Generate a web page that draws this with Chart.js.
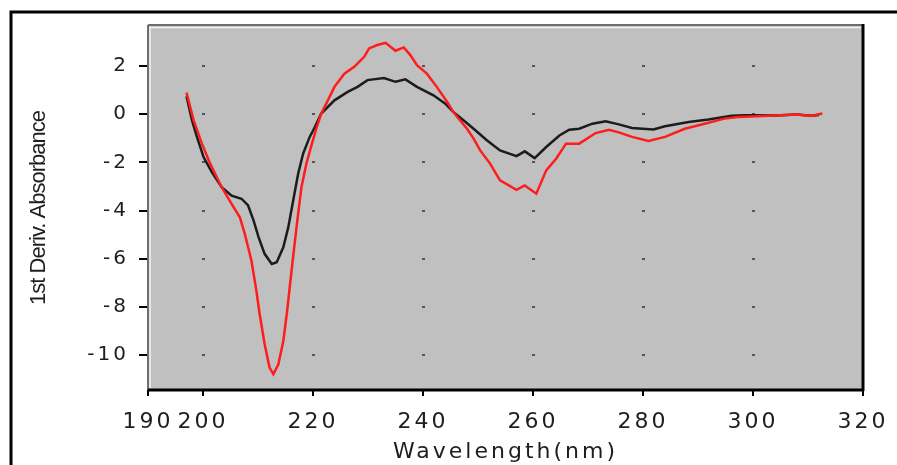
<!DOCTYPE html>
<html>
<head>
<meta charset="utf-8">
<script src="https://cdn.jsdelivr.net/npm/chart.js@4.4.0/dist/chart.umd.min.js"></script>
<style>
  html, body { margin: 0; padding: 0; background: #fff; }
  canvas { display: block; }
</style>
</head>
<body>
<canvas id="derivChart" width="897" height="465"></canvas>
<script>
'use strict';

// Axis ticks
const xTickValues = [190, 200, 220, 240, 260, 280, 300, 320];
const yTickValues = [-10, -8, -6, -4, -2, 0, 2];

// Black trace: wavelength (nm) / 1st derivative
const blackNm = [197.0, 198.0, 198.9, 200.1, 201.6, 203.4, 205.2, 207.0, 208.2, 209.2, 210.1, 211.2, 212.5, 213.4,
  214.6, 215.5, 216.4, 217.3, 218.2, 219.4, 220.3, 221.5, 223.9, 226.3, 228.1, 229.9, 232.9, 235.0, 236.8, 238.9,
  241.9, 244.0, 245.5, 247.9, 249.2, 251.6, 254.0, 257.0, 258.5, 260.3, 262.4, 264.8, 266.6, 268.4, 270.8, 273.2,
  275.6, 278.0, 281.9, 284.0, 288.3, 291.9, 296.1, 298.5, 300.3, 304.0, 308.0, 310.5, 312.0];
const blackVal = [0.75, -0.25, -0.94, -1.78, -2.40, -3.03, -3.38, -3.51, -3.79, -4.42, -5.11, -5.80, -6.22, -6.15,
  -5.53, -4.70, -3.58, -2.47, -1.64, -0.94, -0.55, 0.03, 0.58, 0.93, 1.14, 1.42, 1.51, 1.35, 1.45, 1.14,
  0.79, 0.45, 0.10, -0.35, -0.60, -1.08, -1.50, -1.74, -1.54, -1.82, -1.36, -0.88, -0.64, -0.60, -0.39, -0.29,
  -0.42, -0.57, -0.63, -0.50, -0.32, -0.22, -0.06, -0.04, -0.04, -0.05, -0.01, -0.06, -0.03];

// Red trace
const redNm = [197.0, 198.3, 199.8, 201.3, 203.4, 205.2, 206.7, 207.6, 208.8, 209.7, 210.3, 211.2, 212.1, 212.8,
  213.7, 214.6, 215.3, 216.1, 217.0, 217.9, 218.8, 219.7, 220.6, 221.5, 222.7, 223.9, 225.7, 227.5, 229.3, 230.2,
  231.7, 233.2, 235.0, 236.5, 237.7, 238.9, 240.7, 242.5, 244.4, 245.5, 246.2, 248.0, 249.2, 250.4, 252.2, 254.0,
  257.0, 258.5, 260.6, 262.4, 264.2, 266.0, 268.4, 271.4, 273.8, 275.6, 278.0, 281.0, 284.0, 287.6, 291.2, 294.8,
  297.2, 300.9, 308.1, 310.5, 312.6];
const redVal = [0.90, -0.25, -1.22, -2.05, -3.03, -3.72, -4.28, -4.97, -6.08, -7.33, -8.30, -9.55, -10.53, -10.80,
  -10.39, -9.42, -8.17, -6.50, -4.70, -3.03, -2.05, -1.30, -0.60, 0.03, 0.58, 1.14, 1.69, 1.97, 2.39, 2.74,
  2.88, 2.97, 2.64, 2.78, 2.46, 2.04, 1.69, 1.14, 0.51, 0.10, -0.10, -0.60, -1.01, -1.50, -2.05, -2.75,
  -3.14, -2.96, -3.30, -2.33, -1.85, -1.22, -1.22, -0.78, -0.64, -0.75, -0.94, -1.11, -0.94, -0.60, -0.39, -0.18,
  -0.11, -0.08, -0.01, -0.07, 0.03];

const toPoints = (xs, ys) => xs.map((x, i) => ({ x: x, y: ys[i] }));

// Grey plot panel, outer frame and grid dots
const plotFrame = {
  id: 'plotFrame',
  beforeDraw(chart) {
    const { ctx, chartArea: a } = chart;
    ctx.letterSpacing = '-1px'; // y title (drawn before datasets) is condensed
    ctx.save();
    ctx.strokeStyle = '#000';
    ctx.lineWidth = 3;
    ctx.strokeRect(11, 12, 1000, 1000);
    ctx.fillStyle = '#c0c0c0';
    ctx.fillRect(a.left, a.top, a.right - a.left, a.bottom - a.top);
    ctx.restore();
  },
  beforeDatasetsDraw(chart) {
    const { ctx, chartArea: a } = chart;
    const xs = chart.scales.x, ys = chart.scales.y;
    ctx.save();
    ctx.fillStyle = '#555';
    xs.ticks.forEach(function (tx) {
      if (tx.value <= xs.min || tx.value >= xs.max) return;
      ys.ticks.forEach(function (ty) {
        const px = Math.round(xs.getPixelForValue(tx.value));
        const py = Math.round(ys.getPixelForValue(ty.value));
        ctx.fillRect(px - 1, py - 1, 3, 2);
      });
    });
    // sunken border
    ctx.lineWidth = 2;
    ctx.strokeStyle = '#6e6e6e';
    ctx.beginPath(); ctx.moveTo(a.left, a.top - 1); ctx.lineTo(a.right, a.top - 1); ctx.stroke();
    ctx.strokeStyle = '#f2f2f2';
    ctx.lineWidth = 1.5;
    ctx.beginPath();
    ctx.moveTo(a.left + 2, a.bottom - 2);
    ctx.lineTo(a.left + 2, a.top + 1.5);
    ctx.lineTo(a.right - 2, a.top + 1.5);
    ctx.stroke();
    ctx.strokeStyle = '#000';
    ctx.lineWidth = 3;
    ctx.beginPath(); ctx.moveTo(a.right, a.top - 2); ctx.lineTo(a.right, a.bottom + 1); ctx.stroke();
    ctx.beginPath(); ctx.moveTo(a.left, a.bottom); ctx.lineTo(a.right + 1, a.bottom); ctx.stroke();
    ctx.restore();
  },
  afterDatasetsDraw(chart) {
    // tick labels and x title come after this (z = 1): wide like the original bitmap font
    chart.ctx.letterSpacing = '3px';
  }
};

const derivChart = new Chart(document.getElementById('derivChart'), {
  type: 'line',
  data: {
    datasets: [
      {
        label: 'red',
        data: toPoints(redNm, redVal),
        borderColor: '#ff1c1c',
        borderWidth: 2.5,
        pointRadius: 0,
        tension: 0
      },
      {
        label: 'black',
        data: toPoints(blackNm, blackVal),
        borderColor: '#1c1c1c',
        borderWidth: 2.5,
        pointRadius: 0,
        tension: 0
      }
    ]
  },
  plugins: [plotFrame],
  options: {
    responsive: false,
    animation: false,
    layout: { padding: { top: 26, right: 31, left: 0, bottom: 0 } },
    plugins: {
      legend: { display: false },
      tooltip: { enabled: false }
    },
    scales: {
      x: {
        type: 'linear',
        min: 190,
        max: 320,
        afterBuildTicks: function (scale) {
          scale.ticks = xTickValues.map(v => ({ value: v }));
        },
        afterFit: function (scale) {
          scale.height = 75;
        },
        grid: { drawOnChartArea: false, color: '#000', lineWidth: 2, tickLength: 6, z: 1 },
        border: { display: false },
        ticks: {
          autoSkip: false,
          maxRotation: 0,
          minRotation: 0,
          padding: 13,
          color: '#1e1e1e',
          font: { family: 'DejaVu Sans', size: 22 },
          z: 1
        },
        title: {
          display: true,
          text: 'Wavelength(nm)',
          color: '#1e1e1e',
          font: { family: 'DejaVu Sans', size: 22 },
          padding: { top: 0, bottom: 0 }
        }
      },
      y: {
        type: 'linear',
        min: -11.46,
        max: 3.67,
        afterBuildTicks: function (scale) {
          scale.ticks = yTickValues.map(v => ({ value: v }));
        },
        afterFit: function (scale) {
          scale.width = 148;
        },
        grid: { drawOnChartArea: false, color: '#000', lineWidth: 2, tickLength: 9 },
        border: { color: '#6e6e6e', width: 2 },
        ticks: {
          padding: 10,
          color: '#1e1e1e',
          font: { family: 'DejaVu Sans', size: 20 },
          z: 1
        },
        title: {
          display: true,
          text: '1st Deriv. Absorbance',
          color: '#1e1e1e',
          font: { family: 'Liberation Sans', size: 22 },
          padding: { top: 26, bottom: 0 }
        }
      }
    }
  }
});
</script>
</body>
</html>
